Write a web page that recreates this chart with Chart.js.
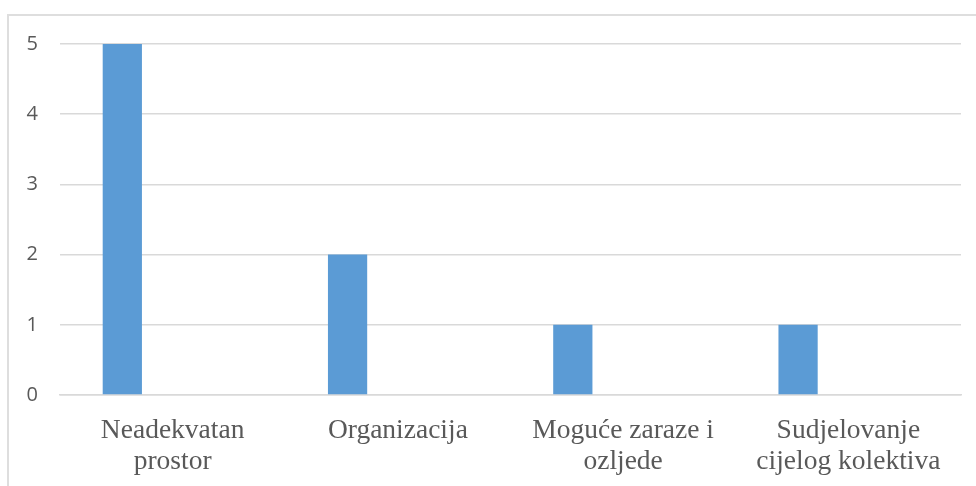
<!DOCTYPE html>
<html>
<head>
<meta charset="utf-8">
<script src="https://cdn.jsdelivr.net/npm/chart.js@4"></script>
<style>
    html, body { margin: 0; padding: 0; background: #fff; }
    #wrap { position: relative; width: 976px; height: 486px; overflow: hidden; }
    #frame {
        position: absolute; left: 7px; top: 14px; width: 1100px; height: 600px;
        border-left: 2px solid #dedede; border-top: 2px solid #dedede;
    }
    canvas { position: absolute; left: 0; top: 0; }
</style>
</head>
<body>
<div id="wrap">
    <div id="frame"></div>
    <canvas id="barChart" width="976" height="486"></canvas>
</div>
<script>
    // ============================================
    // DATA
    // ============================================
    const categories = [
        ['Neadekvatan', 'prostor'],
        'Organizacija',
        ['Moguće zaraze i', 'ozljede'],
        ['Sudjelovanje', 'cijelog kolektiva']
    ];
    const seriesValues = [5, 2, 1, 1];
    // empty series from the original sheet (they only reserve space in each group)
    const emptySeries2 = [null, null, null, null];
    const emptySeries3 = [null, null, null, null];
    const yTicks = [0, 1, 2, 3, 4, 5];

    // ============================================
    // BAR CHART
    // ============================================
    const barStyle = {
        backgroundColor: '#5B9BD5',
        borderWidth: 0,
        categoryPercentage: 0.67,
        barPercentage: 0.78
    };

    new Chart(document.getElementById('barChart'), {
        type: 'bar',
        data: {
            labels: categories,
            datasets: [
                Object.assign({ label: 'Series 1', data: seriesValues }, barStyle),
                Object.assign({ label: 'Series 2', data: emptySeries2 }, barStyle),
                Object.assign({ label: 'Series 3', data: emptySeries3 }, barStyle)
            ]
        },
        options: {
            responsive: false,
            animation: false,
            layout: { padding: { top: 44, right: 15, left: 0, bottom: 0 } },
            plugins: {
                legend: { display: false },
                tooltip: { enabled: false }
            },
            scales: {
                y: {
                    min: 0,
                    max: 5,
                    afterBuildTicks: function(scale) {
                        scale.ticks = yTicks.map(function(v) { return { value: v }; });
                    },
                    afterFit: function(scale) { scale.width = 60; },
                    border: { display: false },
                    grid: { color: '#D9D9D9', lineWidth: 1.5, drawTicks: false },
                    ticks: {
                        color: '#595959',
                        font: { family: 'Open Sans', size: 20 },
                        padding: 22
                    }
                },
                x: {
                    afterFit: function(scale) { scale.height = 91; },
                    border: { display: true, color: '#D9D9D9', width: 1.5 },
                    grid: { display: false },
                    ticks: {
                        color: '#595959',
                        maxRotation: 0,
                        autoSkip: false,
                        font: { family: 'Liberation Serif', size: 27.5, lineHeight: 1.1 },
                        padding: 13
                    }
                }
            }
        }
    });
</script>
</body>
</html>
